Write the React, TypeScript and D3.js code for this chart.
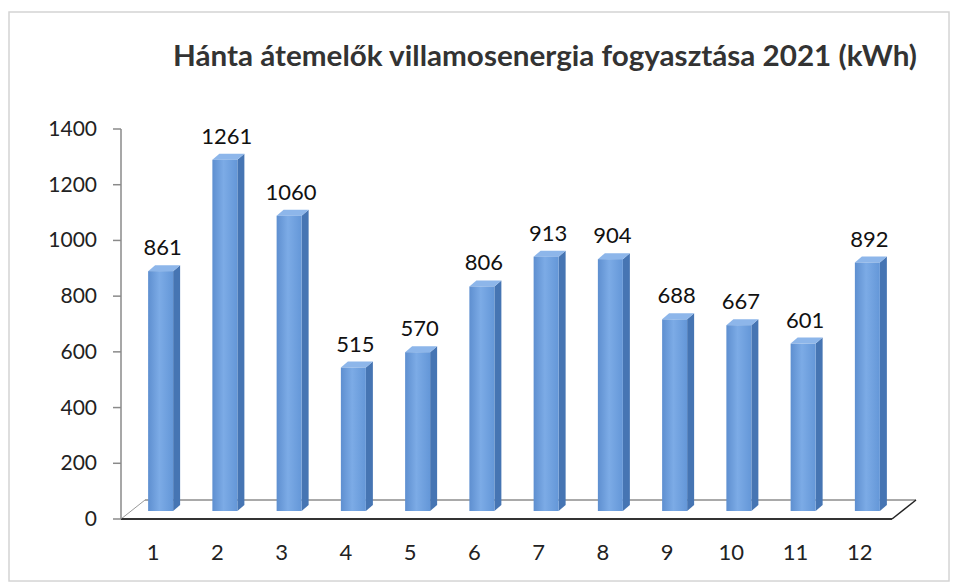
import React from 'react';
import * as d3 from 'd3';

const months = ['1', '2', '3', '4', '5', '6', '7', '8', '9', '10', '11', '12'];
const consumption = [861, 1261, 1060, 515, 570, 806, 913, 904, 688, 667, 601, 892];
const yTicks = [0, 200, 400, 600, 800, 1000, 1200, 1400];
const title = 'Hánta átemelők villamosenergia fogyasztása 2021 (kWh)';

const W = 953, H = 584;
const margin = { left: 121, right: 61, top: 129, bottom: 65 };
const depth = { dx: 24, dy: -19 };   // floor depth
const barDepth = { dx: 7, dy: -6 };  // column side / top

const App = () => {
  const x = d3.scaleBand()
    .domain(months)
    .range([margin.left, W - margin.right]);

  const y = d3.scaleLinear()
    .domain([0, 1400])
    .range([H - margin.bottom, margin.top]);

  const y0 = y(0);
  const barW = 25;
  const font = 'Lato, "Open Sans", sans-serif';

  return (
    <svg width={W} height={H} style={{ position: 'absolute', left: 0, top: 0, background: '#fff' }}>
      <defs>
        <linearGradient id="front" x1="0" x2="1" y1="0" y2="0">
          <stop offset="0" stopColor="#5e8fd0" />
          <stop offset="0.45" stopColor="#7cabe6" />
          <stop offset="1" stopColor="#6497d8" />
        </linearGradient>
      </defs>

      {/* chart border */}
      <rect x={9} y={12} width={940} height={569} fill="none" stroke="#d4d4d4" strokeWidth={1.5} />

      <text x={545} y={66} textAnchor="middle" fontFamily={font} fontWeight="bold" fontSize={29}
        textLength={744} lengthAdjust="spacingAndGlyphs" fill="#333">
        {title}
      </text>

      {/* floor */}
      <line x1={margin.left + depth.dx} y1={y0 + depth.dy} x2={W - margin.right + depth.dx} y2={y0 + depth.dy} stroke="#555" strokeWidth={1} />
      <line x1={margin.left} y1={y0} x2={margin.left + depth.dx} y2={y0 + depth.dy} stroke="#999" strokeWidth={1} />
      <line x1={W - margin.right} y1={y0} x2={W - margin.right + depth.dx} y2={y0 + depth.dy} stroke="#222" strokeWidth={1.5} />
      <line x1={margin.left} y1={y0} x2={W - margin.right} y2={y0} stroke="#333" strokeWidth={2} />

      {/* y axis */}
      <line x1={margin.left} y1={y(1400)} x2={margin.left} y2={y0} stroke="#8a8a8a" strokeWidth={1.5} />
      {yTicks.map(t => (
        <g key={t}>
          <line x1={margin.left - 8} x2={margin.left} y1={y(t)} y2={y(t)} stroke="#8a8a8a" strokeWidth={1.5} />
          <text x={97} y={y(t) + 7} textAnchor="end" fontFamily={font} fontSize={21} fill="#222">{t}</text>
        </g>
      ))}

      {/* columns */}
      {consumption.map((v, i) => {
        const cx = x(months[i])! + x.bandwidth() / 2;
        const fx = cx - 5;
        const base = y0 - 8;
        const top = y(v) - 8;
        const { dx, dy } = barDepth;
        return (
          <g key={i}>
            <polygon
              points={`${fx + barW},${base} ${fx + barW + dx},${base + dy} ${fx + barW + dx},${top + dy} ${fx + barW},${top}`}
              fill="#4675b3"
            />
            <polygon
              points={`${fx},${top} ${fx + dx},${top + dy} ${fx + barW + dx},${top + dy} ${fx + barW},${top}`}
              fill="#8db6ea"
            />
            <rect x={fx} y={top} width={barW} height={base - top} fill="url(#front)" />
            <text x={fx + barW / 2 + 2} y={top - 16} textAnchor="middle" fontFamily={font} fontSize={22} fill="#111">
              {v}
            </text>
          </g>
        );
      })}

      {/* x labels */}
      {months.map(m => (
        <text key={m} x={x(m)! + x.bandwidth() / 2} y={560} textAnchor="middle" fontFamily={font} fontSize={22} fill="#222">
          {m}
        </text>
      ))}
    </svg>
  );
};

export default App;
